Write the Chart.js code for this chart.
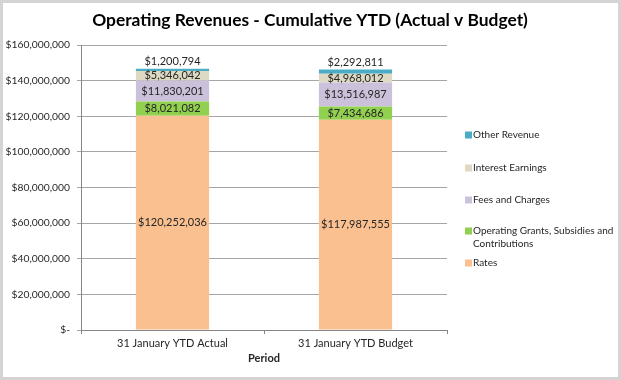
<!DOCTYPE html>
<html>
<head>
<meta charset="utf-8">
<script src="https://cdn.jsdelivr.net/npm/chart.js@4.4.1/dist/chart.umd.min.js"></script>
<style>
html,body{margin:0;padding:0;background:#fff;}
#wrap{width:621px;height:380px;position:relative;}
canvas{display:block;}
</style>
</head>
<body>
<div id="wrap"><canvas id="c" width="621" height="380"></canvas></div>
<script>
const categories = ["31 January YTD Actual", "31 January YTD Budget"];
const rates = [120252036, 117987555];
const grants = [8021082, 7434686];
const fees = [11830201, 13516987];
const interest = [5346042, 4968012];
const other = [1200794, 2292811];
const seriesNames = ["Rates", "Operating Grants, Subsidies and Contributions", "Fees and Charges", "Interest Earnings", "Other Revenue"];
const legendLines = {"Operating Grants, Subsidies and Contributions": ["Operating Grants, Subsidies and", "Contributions"]};
const colors = ["#FAC090", "#92D050", "#CCC1DA", "#DDD9C3", "#4BACC6"];
const yTicks = [0, 20000000, 40000000, 60000000, 80000000, 100000000, 120000000, 140000000, 160000000];
const titleText = "Operating Revenues - Cumulative YTD (Actual v Budget)";
const FONT = "Lato, 'Open Sans', sans-serif";

function money(v){
  if (v === 0) return "$-";
  return "$" + Math.round(v).toLocaleString("en-US");
}

const values = [rates, grants, fees, interest, other];

const framePlugin = {
  id: "frame",
  beforeDraw(chart){
    const ctx = chart.ctx;
    ctx.save();
    ctx.fillStyle = "#fff";
    ctx.fillRect(0,0,chart.width,chart.height);
    ctx.strokeStyle = "#d4d4d4";
    ctx.lineWidth = 3;
    ctx.strokeRect(1.5,1.5,chart.width-3,chart.height-3);
    ctx.restore();
  },
  afterDraw(chart){
    const ctx = chart.ctx;
    ctx.save();
    // title
    ctx.fillStyle = "#000";
    ctx.font = "bold 17.4px " + FONT;
    ctx.textAlign = "center";
    ctx.textBaseline = "middle";
    ctx.fillText(titleText, 310, 20);
    // data labels
    ctx.font = "11px " + FONT;
    ctx.fillStyle = "#262626";
    chart.data.datasets.forEach((ds, di) => {
      const meta = chart.getDatasetMeta(di);
      meta.data.forEach((bar, i) => {
        const v = ds.data[i];
        let y;
        if (di === chart.data.datasets.length - 1) {
          y = bar.y - 7;
        } else {
          y = (bar.y + bar.base) / 2;
        }
        ctx.fillText(money(v), bar.x, y);
      });
    });
    // legend (reverse order)
    ctx.textAlign = "left";
    ctx.font = "10px " + FONT;
    const ys = [135, 168, 200, 231, 263];
    const order = [4,3,2,1,0];
    order.forEach((di, k) => {
      const ds = chart.data.datasets[di];
      const y = ys[k];
      ctx.fillStyle = ds.backgroundColor;
      ctx.fillRect(465, y - 3.5, 7, 7);
      ctx.fillStyle = "#262626";
      const lines = legendLines[ds.label] || [ds.label];
      lines.forEach((ln, j) => ctx.fillText(ln, 473, y + j*13));
    });
    ctx.restore();
  }
};

new Chart(document.getElementById("c"), {
  type: "bar",
  data: {
    labels: categories,
    datasets: seriesNames.map((n, i) => ({
      label: n,
      data: values[i],
      backgroundColor: colors[i],
      borderWidth: 0,
      barPercentage: 0.4,
      categoryPercentage: 1.0
    }))
  },
  options: {
    responsive: false,
    animation: false,
    devicePixelRatio: 1,
    layout: { padding: { top: 45, right: 174, bottom: 0, left: 0 } },
    plugins: { legend: { display: false }, title: { display: false }, tooltip: { enabled: false } },
    scales: {
      x: {
        stacked: true,
        offset: true,
        grid: { display: true, drawOnChartArea: false, drawTicks: true, tickLength: 4, offset: true, color: "#868686" },
        border: { display: true, color: "#868686" },
        ticks: { color: "#262626", font: { family: FONT, size: 11 }, padding: 3 },
        title: { display: true, text: "Period", color: "#262626", font: { family: FONT, size: 11, weight: "bold" }, padding: { top: 2, bottom: 15 } },
        afterFit(s){ s.height = 50; }
      },
      y: {
        stacked: true,
        min: 0,
        max: 160000000,
        afterBuildTicks(s){ s.ticks = yTicks.map(v => ({ value: v })); },
        grid: { color: "#a6a6a6", tickLength: 4, drawTicks: true },
        border: { display: true, color: "#868686" },
        ticks: { color: "#262626", font: { family: FONT, size: 10.3 }, padding: 7, callback: v => money(v) },
        afterFit(s){ s.width = 81; }
      }
    }
  },
  plugins: [framePlugin]
});
</script>
</body>
</html>
